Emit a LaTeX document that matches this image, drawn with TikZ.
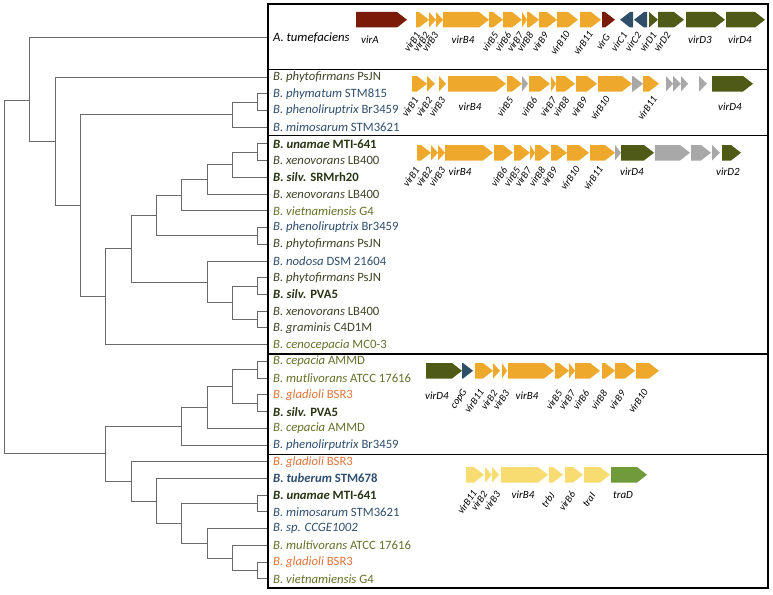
\documentclass[tikz,border=0pt]{standalone}
\usepackage{fontspec}
\setmainfont{Carlito}
\definecolor{gorange}{HTML}{EEA92D}
\definecolor{gred}{HTML}{7A1A08}
\definecolor{gblue}{HTML}{2F4F68}
\definecolor{golive}{HTML}{4F5A16}
\definecolor{ggray}{HTML}{A8A8A8}
\definecolor{gyellow}{HTML}{F7DC72}
\definecolor{ggreen}{HTML}{6F9B3B}
\definecolor{tblue}{HTML}{2F4F6E}
\definecolor{tolive}{HTML}{66702C}
\definecolor{tdark}{HTML}{3E4426}
\definecolor{tbold}{HTML}{2A3514}
\definecolor{torange}{HTML}{E0743A}
\definecolor{treegray}{HTML}{6A6A6A}
\newcommand{\garr}[4]{%
  \pgfmathsetmacro\ghl{min(10,#2-#1)}%
  \fill[#4] (#1,#3) -- ({#2-\ghl},#3) -- (#2,{#3+7.75}) -- ({#2-\ghl},{#3+15.5}) -- (#1,{#3+15.5}) -- cycle;}
\newcommand{\garrL}[4]{%
  \pgfmathsetmacro\ghl{min(10,#2-#1)}%
  \fill[#4] (#2,#3) -- ({#1+\ghl},#3) -- (#1,{#3+7.75}) -- ({#1+\ghl},{#3+15.5}) -- (#2,{#3+15.5}) -- cycle;}
\newcommand{\mkrl}[4]{\node[rotlab] (#1) at (#2,#3) {#4};}
\newcommand{\mkhl}[4]{\node[glab] (#1) at (#2,#3) {#4};}
\begin{document}
\begin{tikzpicture}[x=1pt,y=-1pt,
  glab/.style={font=\fontsize{11}{12}\selectfont\itshape, inner sep=0pt},
  rotlab/.style={font=\fontsize{10.2}{11}\selectfont\itshape, inner sep=0pt, rotate=55},
  leaf/.style={anchor=west, inner sep=0pt, font=\fontsize{12.7}{14}\selectfont},
  tree/.style={draw=treegray, line width=1pt},
  boxline/.style={draw=black, line width=1.3pt}]
\useasboundingbox (0,0) rectangle (773,594);
% leaf coordinates
\coordinate (lA) at (268,38);
\foreach \k in {0,...,30} {\coordinate (l\k) at (268,{77+16.73*\k});}
% internal nodes
\coordinate (root) at (4.3,277);
\coordinate (nA) at (29.6,100);
\coordinate (n0_16) at (55.0,141.3);
\coordinate (n1_16) at (80.3,205.7);
\coordinate (n1_3) at (232.4,114.6);
\coordinate (n1_2) at (257.7,102.1);
\coordinate (n4_16) at (105.7,296.7);
\coordinate (n4_15) at (131.0,248.8);
\coordinate (n4_10) at (156.3,215.5);
\coordinate (n4_8) at (181.7,195.2);
\coordinate (n4_7) at (207.0,179.5);
\coordinate (n4_6) at (232.4,164.8);
\coordinate (n4_5) at (257.7,152.3);
\coordinate (n9_10) at (257.7,235.9);
\coordinate (n11_15) at (207.0,282.0);
\coordinate (n12_15) at (232.4,302.9);
\coordinate (n12_13) at (257.7,286.1);
\coordinate (n14_15) at (257.7,319.6);
\coordinate (n17_30) at (105.7,453.8);
\coordinate (n17_22) at (181.7,426.2);
\coordinate (n17_21) at (207.0,407.4);
\coordinate (n17_20) at (232.4,386.5);
\coordinate (n17_18) at (257.7,369.8);
\coordinate (n19_20) at (257.7,403.2);
\coordinate (n23_30) at (131.0,481.4);
\coordinate (n24_30) at (156.3,501.0);
\coordinate (n25_30) at (181.7,523.5);
\coordinate (n25_26) at (257.7,503.6);
\coordinate (n27_30) at (207.0,543.4);
\coordinate (n28_30) at (232.4,558.0);
\coordinate (n29_30) at (257.7,570.5);
% tree edges
\foreach \p/\c in {root/nA, root/n17_30, nA/lA, nA/n0_16, n0_16/l0, n0_16/n1_16,
  n1_16/n1_3, n1_16/n4_16, n1_3/n1_2, n1_3/l3, n1_2/l1, n1_2/l2,
  n4_16/n4_15, n4_16/l16, n4_15/n4_10, n4_15/n11_15, n4_10/n4_8, n4_10/n9_10,
  n4_8/n4_7, n4_8/l8, n4_7/n4_6, n4_7/l7, n4_6/n4_5, n4_6/l6, n4_5/l4, n4_5/l5,
  n9_10/l9, n9_10/l10, n11_15/l11, n11_15/n12_15, n12_15/n12_13, n12_15/n14_15,
  n12_13/l12, n12_13/l13, n14_15/l14, n14_15/l15,
  n17_30/n17_22, n17_30/n23_30, n17_22/n17_21, n17_22/l22, n17_21/n17_20, n17_21/l21,
  n17_20/n17_18, n17_20/n19_20, n17_18/l17, n17_18/l18, n19_20/l19, n19_20/l20,
  n23_30/l23, n23_30/n24_30, n24_30/l24, n24_30/n25_30, n25_30/n25_26, n25_30/n27_30,
  n25_26/l25, n25_26/l26, n27_30/l27, n27_30/n28_30, n28_30/l28, n28_30/n29_30,
  n29_30/l29, n29_30/l30}
  {\draw[tree] (\p) |- (\c);}
% boxes
\draw[boxline] (268,4) rectangle (768,588);
\draw[boxline] (268,69.5) -- (768,69.5);
\draw[boxline] (268,135.5) -- (768,135.5);
\draw[boxline] (268,354) -- (768,354);
\draw[boxline] (268,454.5) -- (768,454.5);
% leaf labels
\node[leaf] (tA) at (273,37.5) {\textit{A. tumefaciens}};
\node[leaf, text=tdark] (t0) at (273,77) {\textit{B. phytofirmans} PsJN};
\node[leaf, text=tblue] (t1) at (273,93.73) {\textit{B. phymatum} STM815};
\node[leaf, text=tblue] (t2) at (273,110.46) {\textit{B. phenoliruptrix} Br3459};
\node[leaf, text=tblue] (t3) at (273,127.19) {\textit{B. mimosarum} STM3621};
\node[leaf, text=tbold] (t4) at (273,143.92) {\textbf{\textit{B. unamae} MTI-641}};
\node[leaf, text=tdark] (t5) at (273,160.65) {\textit{B. xenovorans} LB400};
\node[leaf, text=tbold] (t6) at (273,177.38) {\textbf{\textit{B. silv.} SRMrh20}};
\node[leaf, text=tdark] (t7) at (273,194.11) {\textit{B. xenovorans} LB400};
\node[leaf, text=tolive] (t8) at (273,210.84) {\textit{B. vietnamiensis} G4};
\node[leaf, text=tblue] (t9) at (273,227.57) {\textit{B. phenoliruptrix} Br3459};
\node[leaf, text=tdark] (t10) at (273,244.3) {\textit{B. phytofirmans} PsJN};
\node[leaf, text=tblue] (t11) at (273,261.03) {\textit{B. nodosa} DSM 21604};
\node[leaf, text=tdark] (t12) at (273,277.76) {\textit{B. phytofirmans} PsJN};
\node[leaf, text=tbold] (t13) at (273,294.49) {\textbf{\textit{B. silv.} PVA5}};
\node[leaf, text=tdark] (t14) at (273,311.22) {\textit{B. xenovorans} LB400};
\node[leaf, text=tdark] (t15) at (273,327.95) {\textit{B. graminis} C4D1M};
\node[leaf, text=tolive] (t16) at (273,344.68) {\textit{B. cenocepacia} MC0-3};
\node[leaf, text=tolive] (t17) at (273,361.41) {\textit{B. cepacia} AMMD};
\node[leaf, text=tolive] (t18) at (273,378.14) {\textit{B. mutlivorans} ATCC 17616};
\node[leaf, text=torange] (t19) at (273,394.87) {\textit{B. gladioli} BSR3};
\node[leaf, text=tbold] (t20) at (273,411.6) {\textbf{\textit{B. silv.} PVA5}};
\node[leaf, text=tolive] (t21) at (273,428.33) {\textit{B. cepacia} AMMD};
\node[leaf, text=tblue] (t22) at (273,445.06) {\textit{B. phenolirputrix} Br3459};
\node[leaf, text=torange] (t23) at (273,461.79) {\textit{B. gladioli} BSR3};
\node[leaf, text=tblue] (t24) at (273,478.52) {\textbf{\textit{B. tuberum} STM678}};
\node[leaf, text=tbold] (t25) at (273,495.25) {\textbf{\textit{B. unamae} MTI-641}};
\node[leaf, text=tblue] (t26) at (273,511.98) {\textit{B. mimosarum} STM3621};
\node[leaf, text=tblue] (t27) at (273,528.71) {\textit{B. sp. CCGE1002}};
\node[leaf, text=tolive] (t28) at (273,545.44) {\textit{B. multivorans} ATCC 17616};
\node[leaf, text=torange] (t29) at (273,562.17) {\textit{B. gladioli} BSR3};
\node[leaf, text=tolive] (t30) at (273,578.9) {\textit{B. vietnamiensis} G4};
% ---- row 1 arrows
\garr{356}{407}{12}{gred}
\garr{416}{429}{12}{gorange}
\garr{429}{436}{12}{gorange}
\garr{436}{443}{12}{gorange}
\garr{443}{489}{12}{gorange}
\garr{489}{503}{12}{gorange}
\garr{503}{522}{12}{gorange}
\garr{522}{527}{12}{gorange}
\garr{527}{539}{12}{gorange}
\garr{539}{557}{12}{gorange}
\garr{557}{578}{12}{gorange}
\garr{580}{601}{12}{gorange}
\garr{602}{615}{12}{gred}
\garrL{620}{633}{12}{gblue}
\garrL{634}{647}{12}{gblue}
\garr{649}{658}{12}{golive}
\garr{658}{684}{12}{golive}
\garr{686}{725}{12}{golive}
\garr{726}{765}{12}{golive}
\mkhl{a1}{370}{40}{virA}
\mkrl{a2}{412}{42}{virB1}
\mkrl{a3}{421}{42}{virB2}
\mkrl{a4}{430}{42}{virB3}
\mkhl{a5}{463}{40}{virB4}
\mkrl{a6}{490}{42}{virB5}
\mkrl{a7}{503}{42}{virB6}
\mkrl{a8}{515}{42}{virB7}
\mkrl{a9}{525}{42}{virB8}
\mkrl{a10}{540}{42}{virB9}
\mkrl{a11}{560}{43}{virB10}
\mkrl{a12}{583}{43}{virB11}
\mkrl{a13}{603}{42}{virG}
\mkrl{a14}{619}{42}{virC1}
\mkrl{a15}{633}{42}{virC2}
\mkrl{a16}{648}{42}{virD1}
\mkrl{a17}{662}{42}{virD2}
\mkhl{a18}{700}{40}{virD3}
\mkhl{a19}{740}{40}{virD4}
% ---- row 2 arrows
\garr{412}{427}{76}{gorange}
\garr{427}{435}{76}{gorange}
\garr{439}{446}{76}{gorange}
\garr{448}{506}{76}{gorange}
\garr{507}{522}{76}{gorange}
\garr{522}{528}{76}{ggray}
\garr{529}{550}{76}{gorange}
\garr{551}{556}{76}{gorange}
\garr{556}{575}{76}{gorange}
\garr{576}{597}{76}{gorange}
\garr{598}{632}{76}{gorange}
\garr{632}{643}{76}{ggray}
\garr{643}{659}{76}{gorange}
\garr{666}{673}{76}{ggray}
\garr{673}{681}{76}{ggray}
\garr{681}{688}{76}{ggray}
\garr{699}{707}{76}{ggray}
\garr{712}{753}{76}{golive}
\mkrl{b1}{410}{107}{virB1}
\mkrl{b2}{424}{107}{virB2}
\mkrl{b3}{437}{107}{virB3}
\mkhl{b4}{470}{107}{virB4}
\mkrl{b5}{505}{107}{virB5}
\mkrl{b6}{529}{107}{virB6}
\mkrl{b7}{548}{107}{virB7}
\mkrl{b8}{561}{107}{virB8}
\mkrl{b9}{579}{107}{virB9}
\mkrl{b10}{600}{108}{virB10}
\mkrl{b11}{647}{108}{virB11}
\mkhl{b12}{730}{107}{virD4}
% ---- row 3 arrows
\garr{417}{431}{145}{gorange}
\garr{431}{438}{145}{gorange}
\garr{438}{445}{145}{gorange}
\garr{445}{493}{145}{gorange}
\garr{494}{513}{145}{gorange}
\garr{514}{530}{145}{gorange}
\garr{530}{535}{145}{gorange}
\garr{535}{550}{145}{gorange}
\garr{551}{567}{145}{gorange}
\garr{567}{589}{145}{gorange}
\garr{590}{615}{145}{gorange}
\garr{615}{621}{145}{ggray}
\garr{621}{654}{145}{golive}
\garr{655}{690}{145}{ggray}
\garr{691}{711}{145}{ggray}
\garr{712}{720}{145}{ggray}
\garr{722}{741}{145}{golive}
\mkrl{c1}{411}{177}{virB1}
\mkrl{c2}{424}{177}{virB2}
\mkrl{c3}{437}{177}{virB3}
\mkhl{c4}{460}{172}{virB4}
\mkrl{c5}{499}{177}{virB6}
\mkrl{c6}{512}{177}{virB5}
\mkrl{c7}{523}{177}{virB7}
\mkrl{c8}{537}{177}{virB8}
\mkrl{c9}{549}{177}{virB9}
\mkrl{c10}{570}{178}{virB10}
\mkrl{c11}{593}{178}{virB11}
\mkhl{c12}{632}{172}{virD4}
\mkhl{c13}{728}{172}{virD2}
% ---- row 4 arrows
\garr{426}{462}{363}{golive}
\garr{462}{473}{363}{gblue}
\garr{475}{493}{363}{gorange}
\garr{493}{500}{363}{gorange}
\garr{502}{507}{363}{gorange}
\garr{508}{554}{363}{gorange}
\garr{555}{569}{363}{gorange}
\garr{569}{575}{363}{gorange}
\garr{575}{600}{363}{gorange}
\garr{602}{615}{363}{gorange}
\garr{615}{635}{363}{gorange}
\garr{636}{659}{363}{gorange}
\mkhl{d1}{437}{396}{virD4}
\mkrl{d2}{459}{399}{copG}
\mkrl{d3}{474}{401}{virB11}
\mkrl{d4}{489}{400}{virB2}
\mkrl{d5}{501}{400}{virB3}
\mkhl{d6}{527}{396}{virB4}
\mkrl{d7}{554}{400}{virB5}
\mkrl{d8}{567}{400}{virB7}
\mkrl{d9}{581}{400}{virB6}
\mkrl{d10}{599}{400}{virB8}
\mkrl{d11}{617}{400}{virB9}
\mkrl{d12}{638}{401}{virB10}
% ---- row 5 arrows
\garr{466}{484}{467}{gyellow}
\garr{485}{492}{467}{gyellow}
\garr{492}{499}{467}{gyellow}
\garr{501}{548}{467}{gyellow}
\garr{549}{563}{467}{gyellow}
\garr{565}{583}{467}{gyellow}
\garr{584}{610}{467}{gyellow}
\garr{611}{647}{467}{ggreen}
\mkrl{e1}{467}{502}{virB11}
\mkrl{e2}{479}{501}{virB2}
\mkrl{e3}{492}{501}{virB3}
\mkhl{e4}{523}{495}{virB4}
\mkrl{e5}{548}{500}{trbJ}
\mkrl{e6}{567}{501}{virB6}
\mkrl{e7}{589}{500}{traI}
\mkhl{e8}{623}{495}{traD}
\end{tikzpicture}
\end{document}
